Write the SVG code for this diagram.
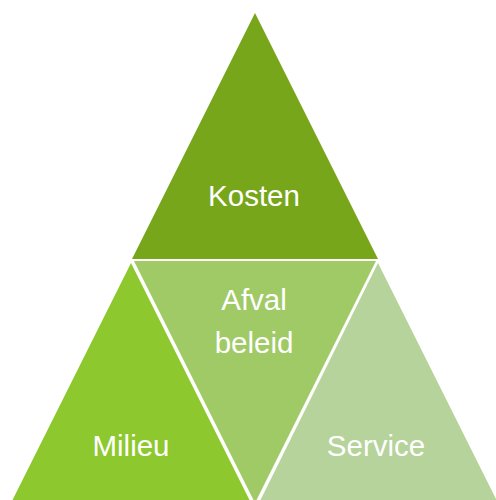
<svg xmlns="http://www.w3.org/2000/svg" width="496" height="500" viewBox="0 0 496 500">
<style>
.t{font-family:"Liberation Sans",Arial,sans-serif;font-size:29.5px;fill:#ffffff;text-anchor:middle}
</style>
<rect width="496" height="500" fill="#ffffff"/>
<g id="top">
<polygon points="255,13 132,259 378,259" fill="#77A61B"/>
<text class="t" x="254" y="206">Kosten</text>
</g>
<g id="middle">
<polygon points="134,261 376,261 255,503" fill="#A0CA66"/>
<text class="t" x="254" y="310">Afval</text>
<text class="t" x="254" y="353">beleid</text>
</g>
<g id="left">
<polygon points="131,263 9,507 253,507" fill="#8DC92E"/>
<text class="t" x="131" y="456">Milieu</text>
</g>
<g id="right">
<polygon points="378,263 257,507 500,507" fill="#B5D39A"/>
<text class="t" x="376" y="456">Service</text>
</g>
<g id="connectors"/>
</svg>
